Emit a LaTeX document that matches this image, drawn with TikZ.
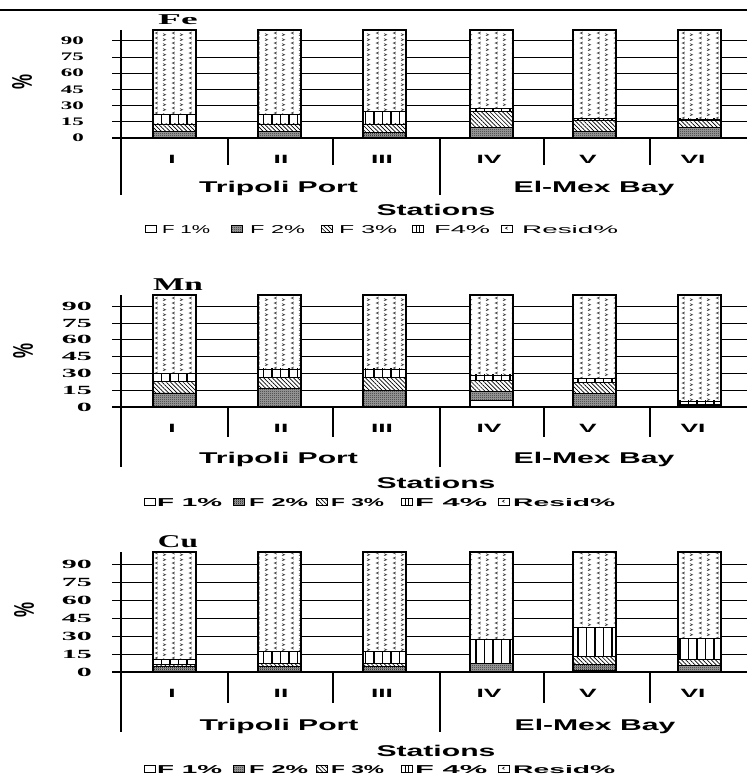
\documentclass[tikz,border=0pt]{standalone}
\usepackage{fontspec}
\setmainfont{Liberation Serif}
\setsansfont{Liberation Sans}
\usepackage{graphicx}
\usetikzlibrary{patterns,patterns.meta}

\tikzdeclarepattern{
  name=fdots,
  type=uncolored,
  bottom left={(0pt,0pt)},
  top right={(2pt,2pt)},
  tile size={(2pt,2pt)},
  code={\fill (0pt,0pt) rectangle (1pt,1pt); \fill (1pt,1pt) rectangle (2pt,2pt);}
}
\tikzdeclarepattern{
  name=resid,
  type=uncolored,
  bottom left={(0pt,0pt)},
  top right={(17pt,5pt)},
  tile size={(17pt,5pt)},
  code={\draw[line width=0.75pt] (5pt,4.8pt) -- (2.4pt,3.5pt) -- (5pt,2.2pt);
        \draw[line width=0.75pt] (10.4pt,2.8pt) -- (13pt,1.5pt) -- (10.4pt,0.2pt);}
}

\tikzset{
  gridln/.style={line width=0.9pt},
  axisln/.style={line width=1.2pt},
  seg/.style={draw=black, line width=0.7pt},
  pF1/.style={seg, fill=white},
  pF2/.style={seg, preaction={fill=black!35}, pattern=fdots},
  pF3/.style={seg, pattern={Lines[angle=-45,distance=3pt,line width=0.7pt]}},
  pF4/.style={seg, pattern={Lines[angle=90,distance=8.5pt,line width=1.1pt]}},
  pRes/.style={seg, pattern=resid, pattern color=black!75},
  barout/.style={draw=black, line width=1.3pt},
  ticklab/.style={inner sep=0pt, anchor=east},
  catlab/.style={inner sep=0pt, font=\sffamily\bfseries\fontsize{12}{13}\selectfont},
  grplab/.style={inner sep=0pt, anchor=base, font=\sffamily\bfseries\fontsize{15.6}{16}\selectfont},
  ttl/.style={inner sep=0pt, anchor=base, font=\bfseries},
  pct/.style={inner sep=0pt, font=\sffamily\bfseries},
  legtxt/.style={inner sep=0pt, anchor=base west},
}

\newcommand\tickA[1]{\fontsize{11.5}{12}\selectfont\bfseries\scalebox{2.0}[1]{#1}}
\newcommand\tickB[1]{\fontsize{12.5}{13}\selectfont\bfseries\scalebox{2.4}[1]{#1}}

\newcommand\onebar[7]{%
  \fill[white] (#1,{#2-#3*100}) rectangle ({#1+43},#2);
  \path[pF1] (#1,#2) rectangle ({#1+43},{#2-#3*#4});
  \path[pF2] (#1,{#2-#3*#4}) rectangle ({#1+43},{#2-#3*#5});
  \path[pF3] (#1,{#2-#3*#5}) rectangle ({#1+43},{#2-#3*#6});
  \path[pF4] (#1,{#2-#3*#6}) rectangle ({#1+43},{#2-#3*#7});
  \path[pRes] (#1,{#2-#3*#7}) rectangle ({#1+43},{#2-#3*100});
  \draw[barout] (#1,{#2-#3*100}) rectangle ({#1+43},#2);
}

% #1 name, #2 zero y, #3 px per %, #4 axis bottom, #5 tick bottom, #6 tick label x, #7 tick formatter, #8 category y, #9 bar data
\newcommand\chart[9]{%
  \foreach \v in {15,30,...,90} \draw[gridln] (112,{#2-#3*\v}) -- (747,{#2-#3*\v});
  \foreach \x/\a/\b/\c/\d in {#9} {\onebar{\x}{#2}{#3}{\a}{\b}{\c}{\d}}
  \draw[axisln] (112,#2) -- (747,#2);
  \draw[axisln] (121,{#2-#3*100}) -- (121,#4);
  \foreach \dx in {228,333,544,650} \draw[axisln] (\dx,#2) -- (\dx,#5);
  \draw[axisln] (440,#2) -- (440,#4);
  \foreach \v in {0,15,...,90} \node[ticklab] (#1t\v) at (#6,{#2-#3*\v}) {#7{\v}};
  \foreach \cx/\lab/\i in {172/I/1,281/II/2,382/III/3,489/IV/4,588/V/5,693/VI/6}
    \node[catlab] (#1c\i) at (\cx,#8) {\scalebox{2.2}[1]{\lab}};
}

\newcommand\lbA[2]{\path[pF1] (#1,{#2-3.5}) rectangle ({#1+11},{#2+3.5});}
\newcommand\lbB[2]{\path[pF2] (#1,{#2-3.5}) rectangle ({#1+11},{#2+3.5});}
\newcommand\lbC[2]{\path[pF3] (#1,{#2-3.5}) rectangle ({#1+11},{#2+3.5});}
\newcommand\lbD[2]{\path[pF1] (#1,{#2-3.5}) rectangle ({#1+11},{#2+3.5});
  \draw[line width=1pt] ({#1+4},{#2-3.5}) -- ({#1+4},{#2+3.5});
  \draw[line width=1pt] ({#1+7.5},{#2-3.5}) -- ({#1+7.5},{#2+3.5});}
\newcommand\lbE[2]{\path[pF1] (#1,{#2-3.5}) rectangle ({#1+11},{#2+3.5});
  \draw[line width=0.6pt] ({#1+6.5},{#2-2}) -- ({#1+4.5},{#2-0.8}) -- ({#1+6.5},{#2+0.4});}

\newcommand\legendrow[4]{%
  \foreach \bx/\tx/\tw/\kind/\txt/\i in {#4} {
    \kind{\bx}{#2}
    \node[legtxt, font=#3] (#1l\i) at (\tx,{#2+4}) {\resizebox{\tw pt}{8pt}{\txt}};
  }
}

\begin{document}
\begin{tikzpicture}[x=1pt,y=-1pt]
\useasboundingbox (0,0) rectangle (747,776);
\fill[white] (0,0) rectangle (747,776);
\draw[line width=1.8pt] (0,10) -- (747,10);

% ---------------- Fe ----------------
\chart{fe}{138}{1.08}{195}{165}{84}{\tickA}{159}
  {153/0/6/13/22, 258/0/6/13/22, 363/0/5.5/13/24.5, 470/0/9.5/25/27, 573/0/6/16.7/18.2, 678/0/9.5/16/17.6}
\node[ttl] (fettl) at (178,25) {\fontsize{15}{16}\selectfont\scalebox{2.5}[1]{Fe}};
\node[pct] (fepct) at (22,82) {\resizebox*{20pt}{15pt}{\rotatebox{90}{\%}}};
\node[grplab] (fega) at (278.5,192) {\scalebox{1.93}[1]{Tripoli Port}};
\node[grplab] (fegb) at (594,192) {\scalebox{1.93}[1]{El-Mex Bay}};
\node[grplab] (fest) at (436,215.5) {\scalebox{1.93}[1]{Stations}};
\legendrow{fe}{229}{\sffamily}
  {145/162/48/\lbA/{F 1\%}/1, 231/250/55/\lbB/{F 2\%}/2, 321/339/58/\lbC/{F 3\%}/3, 412/434/56/\lbD/{F4\%}/4, 501/522/96/\lbE/{Resid\%}/5}

% ---------------- Mn ----------------
\chart{mn}{407}{1.12}{467}{437}{92}{\tickB}{428}
  {153/0/12.6/22.5/30, 258/0/16.5/26.5/34, 363/0/15/26.5/34, 470/6/13.7/24/28.6, 573/0/12.2/21.7/25.6, 678/0/1.5/2.5/5.4}
\node[ttl] (mnttl) at (178,290) {\fontsize{18}{19}\selectfont\scalebox{1.85}[1]{Mn}};
\node[pct] (mnpct) at (23,351) {\resizebox*{20pt}{15pt}{\rotatebox{90}{\%}}};
\node[grplab] (mnga) at (278.5,463) {\scalebox{1.93}[1]{Tripoli Port}};
\node[grplab] (mngb) at (594,463) {\scalebox{1.93}[1]{El-Mex Bay}};
\node[grplab] (mnst) at (436,488) {\scalebox{1.93}[1]{Stations}};
\legendrow{mn}{502}{\sffamily\bfseries}
  {144/157/65/\lbA/{F 1\%}/1, 233/249/59/\lbB/{F 2\%}/2, 316/331/53/\lbC/{F 3\%}/3, 401/415/72/\lbD/{F 4\%}/4, 498/513/102/\lbE/{Resid\%}/5}

% ---------------- Cu ----------------
\chart{cu}{672}{1.2}{732}{703}{92}{\tickB}{693}
  {153/0/5/6/10.5, 258/0/4.5/7/17, 363/0/4.5/7/17, 470/0/7/7/27, 573/1.5/6/13/37, 678/0/5.5/10.5/28}
\node[ttl] (cuttl) at (178,547) {\fontsize{18}{19}\selectfont\scalebox{1.74}[1]{Cu}};
\node[pct] (cupct) at (24,610) {\resizebox*{20pt}{15pt}{\rotatebox{90}{\%}}};
\node[grplab] (cuga) at (279,730) {\scalebox{1.93}[1]{Tripoli Port}};
\node[grplab] (cugb) at (595,730) {\scalebox{1.93}[1]{El-Mex Bay}};
\node[grplab] (cust) at (436,756) {\scalebox{1.93}[1]{Stations}};
\legendrow{cu}{769}{\sffamily\bfseries}
  {144/157/65/\lbA/{F 1\%}/1, 233/249/59/\lbB/{F 2\%}/2, 316/331/53/\lbC/{F 3\%}/3, 401/415/72/\lbD/{F 4\%}/4, 498/513/102/\lbE/{Resid\%}/5}
\end{tikzpicture}
\end{document}
